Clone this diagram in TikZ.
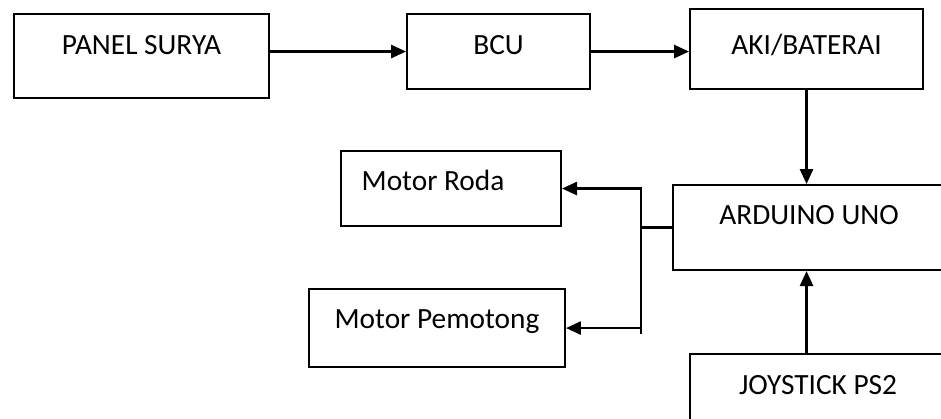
\documentclass[tikz,border=0pt]{standalone}
\usepackage{fontspec}
\setmainfont{Carlito}
\usetikzlibrary{arrows.meta}

\tikzset{
  blok/.style 2 args={draw, line width=1.2pt, anchor=north west, inner xsep=0pt, inner ysep=0pt,
    text height=#1, text depth=#2},
  panah/.style={line width=1.2pt, -{Triangle[length=8.5pt, width=7.5pt]}}
}

\begin{document}
\begin{tikzpicture}[x=0.02cm, y=-0.02cm, font=\fontsize{16.7}{20}\selectfont]
  \useasboundingbox (0,0) rectangle (941,419);
  \clip (0,0) rectangle (941,419);

  % top row: solar panel -> charge controller -> battery
  \node[blok={0.80cm}{0.88cm}, minimum width=5.10cm] (panel) at (13,13) {PANEL SURYA};
  \node[blok={0.80cm}{0.70cm}, minimum width=3.66cm] (bcu) at (406,13) {BCU};
  \node[blok={0.90cm}{0.70cm}, minimum width=4.66cm] (aki) at (689,8) {AKI/BATERAI};

  % controller and its inputs/outputs (right boxes run past the page edge)
  \node[blok={0.78cm}{0.92cm}, minimum width=5.44cm] (arduino) at (672,184) {ARDUINO UNO};
  \node[blok={0.80cm}{0.80cm}, minimum width=5.12cm] (joy) at (689,353) {JOYSTICK PS2};
  \node[blok={0.78cm}{0.72cm}, minimum width=4.40cm] (roda) at (340,150) {Motor Roda\kern0.72cm};
  \node[blok={0.78cm}{0.78cm}, minimum width=5.12cm] (potong) at (308,288) {Motor Pemotong};

  % connectors
  \draw[panah] (bcu.west -| panel.east) -- (bcu.west);
  \draw[panah] (bcu.east) -- (bcu.east -| aki.west);
  \draw[panah] (aki.south) -- (aki.south |- arduino.north);
  \draw[panah] (aki.south |- joy.north) -- (aki.south |- arduino.south);

  % branch to the two motors
  \path (arduino.west) ++(-31,0) coordinate (cabang);
  \draw[line width=1.2pt] (arduino.west) -- (cabang);
  \draw[panah] (cabang) |- (roda.east);
  \draw[panah] (cabang) |- (potong.east);
  \draw[line width=1.2pt] (cabang |- potong.east) -- ++(0,6);

\end{tikzpicture}
\end{document}
